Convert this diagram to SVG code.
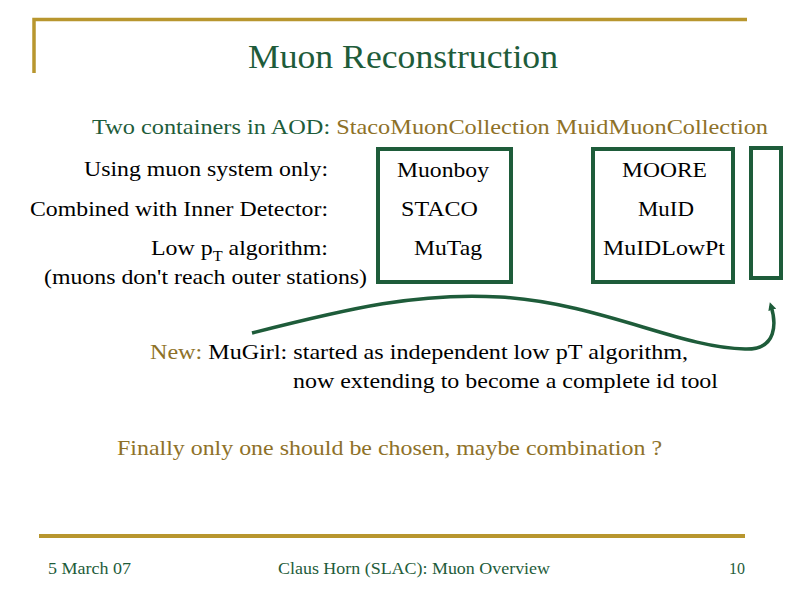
<svg xmlns="http://www.w3.org/2000/svg" width="794" height="595" viewBox="0 0 794 595">
<defs>
<style>
.t{font-family:"Liberation Serif","Times New Roman",serif;font-size:22px;fill:#000}
.g{fill:#1E5C3A}
.o{fill:#8E7128}
.f{font-family:"Liberation Serif","Times New Roman",serif;font-size:16px;fill:#1E5C3A}
.box{fill:none;stroke:#1E5C3A;stroke-width:4}
.rule{stroke:#B8962E;fill:none}
</style>
<marker id="ah" markerWidth="8" markerHeight="8" refX="4" refY="4" orient="auto" markerUnits="userSpaceOnUse" viewBox="0 0 8 8">
<path d="M0,0 L8,4 L0,8 Z" fill="#1E5C3A"/>
</marker>
</defs>
<rect width="794" height="595" fill="#fff"/>
<g id="frame">
<path class="rule" stroke-width="3.5" d="M34,73 V19.5 H747"/>
<path class="rule" stroke-width="4" d="M39,536 H745"/>
</g>
<g id="title">
<text x="248" y="68" class="t g" style="font-size:34px" textLength="310" lengthAdjust="spacingAndGlyphs">Muon Reconstruction</text>
</g>
<g id="header">
<text x="92" y="134" class="t" textLength="676" lengthAdjust="spacingAndGlyphs"><tspan class="g">Two containers in AOD: </tspan><tspan class="o">StacoMuonCollection  MuidMuonCollection</tspan></text>
</g>
<g id="labels">
<text x="84" y="176" class="t" textLength="244" lengthAdjust="spacingAndGlyphs">Using muon system only:</text>
<text x="30" y="216" class="t" textLength="298" lengthAdjust="spacingAndGlyphs">Combined with Inner Detector:</text>
<text x="151" y="255" class="t" textLength="177" lengthAdjust="spacingAndGlyphs">Low p<tspan dy="6" style="font-size:15px">T</tspan><tspan dy="-6"> algorithm:</tspan></text>
<text x="44" y="284" class="t" textLength="323" lengthAdjust="spacingAndGlyphs">(muons don't reach outer stations)</text>
</g>
<g id="staco">
<rect class="box" x="378" y="149" width="133" height="133"/>
<text x="397" y="177" class="t" textLength="92" lengthAdjust="spacingAndGlyphs">Muonboy</text>
<text x="401" y="216" class="t" textLength="77" lengthAdjust="spacingAndGlyphs">STACO</text>
<text x="414" y="255" class="t" textLength="68" lengthAdjust="spacingAndGlyphs">MuTag</text>
</g>
<g id="muid">
<rect class="box" x="593" y="149" width="140" height="133"/>
<text x="622" y="177" class="t" textLength="85" lengthAdjust="spacingAndGlyphs">MOORE</text>
<text x="638" y="216" class="t" textLength="56" lengthAdjust="spacingAndGlyphs">MuID</text>
<text x="603" y="255" class="t" textLength="122" lengthAdjust="spacingAndGlyphs">MuIDLowPt</text>
</g>
<g id="mugirl-box">
<rect class="box" x="751" y="148" width="30" height="130"/>
</g>
<g id="connectors">
<path d="M252,333 C350,308 420,292 500,297 C600,303 680,348 745,349 C778,350 776,322 771,306" fill="none" stroke="#1E5C3A" stroke-width="3.5" marker-end="url(#ah)"/>
</g>
<g id="mugirl-text">
<text x="150" y="359" class="t" textLength="538" lengthAdjust="spacingAndGlyphs"><tspan class="o">New: </tspan>MuGirl: started as independent low pT algorithm,</text>
<text x="293" y="388" class="t" textLength="425" lengthAdjust="spacingAndGlyphs">now extending to become a complete id tool</text>
</g>
<g id="conclusion">
<text x="117" y="455" class="t o" textLength="545" lengthAdjust="spacingAndGlyphs">Finally only one should be chosen, maybe combination ?</text>
</g>
<g id="footer">
<text x="48" y="574" class="f" textLength="83" lengthAdjust="spacingAndGlyphs">5 March 07</text>
<text x="278" y="574" class="f" textLength="272" lengthAdjust="spacingAndGlyphs">Claus Horn (SLAC): Muon Overview</text>
<text x="745" y="574" text-anchor="end" class="f">10</text>
</g>
</svg>
